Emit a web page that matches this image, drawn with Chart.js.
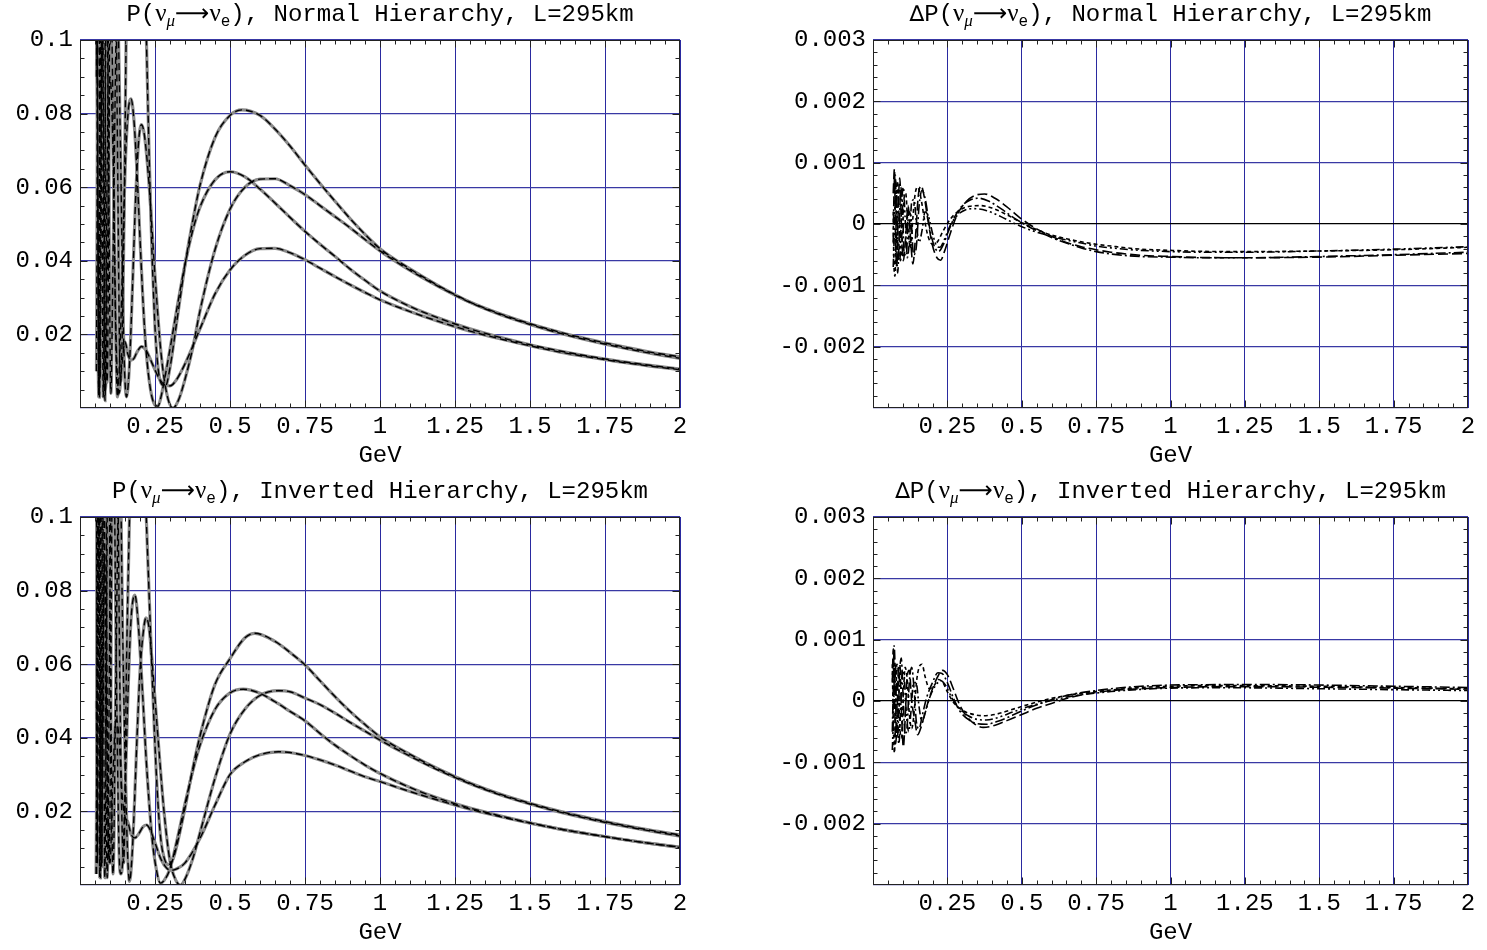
<!DOCTYPE html>
<html>
<head>
<meta charset="utf-8">
<title>P(numu -> nue), L=295km</title>
<script src="https://cdn.jsdelivr.net/npm/chart.js@4.4.1/dist/chart.umd.min.js"></script>
<style>
body{margin:0;background:#fff;overflow:hidden;width:1487px;height:950px;position:relative}
canvas{position:absolute}
</style>
</head>
<body>
<canvas id="nhP" width="740" height="477" style="left:0;top:0"></canvas>
<canvas id="nhD" width="747" height="477" style="left:740px;top:0"></canvas>
<canvas id="ihP" width="740" height="477" style="left:0;top:477px"></canvas>
<canvas id="ihD" width="747" height="477" style="left:740px;top:477px"></canvas>
<script>
// energies in GeV, probabilities
var nhA = [[0.055,0.01],[0.058,0.08],[0.06,0.16],[0.063,0.14],[0.066,0.06],[0.0675,0.008],[0.07,0.04],[0.074,0.14],[0.077,0.2],[0.081,0.15],[0.086,0.05],[0.09,0.007],[0.095,0.04],[0.1,0.13],[0.108,0.2],[0.116,0.16],[0.125,0.07],[0.135,0.007],[0.145,0.04],[0.155,0.11],[0.168,0.2],[0.18,0.23],[0.195,0.2],[0.21,0.14],[0.22,0.105],[0.23,0.07],[0.24,0.042],[0.25,0.022],[0.26,0.011],[0.27,0.0068],[0.285,0.006],[0.3,0.011],[0.32,0.022],[0.35,0.0388],[0.375,0.0505],[0.4,0.0605],[0.45,0.0735],[0.5,0.0795],[0.54,0.081],[0.6,0.0795],[0.65,0.0758],[0.7,0.0712],[0.75,0.066],[0.8,0.061],[0.85,0.0562],[0.9,0.0515],[0.95,0.0472],[1.0,0.0433],[1.1,0.0378],[1.2,0.033],[1.3,0.0288],[1.4,0.0256],[1.5,0.0229],[1.6,0.0206],[1.7,0.0186],[1.8,0.0168],[1.9,0.0152],[2.0,0.0139]];
var nhB = [[0.055,0.14],[0.058,0.11],[0.0625,0.003],[0.066,0.06],[0.0714,0.15],[0.077,0.08],[0.0833,0.002],[0.09,0.06],[0.1,0.13],[0.11,0.08],[0.118,0.025],[0.125,0.003],[0.135,0.02],[0.15,0.064],[0.16,0.08],[0.17,0.084],[0.18,0.078],[0.19,0.064],[0.2,0.046],[0.21,0.029],[0.22,0.016],[0.235,0.005],[0.25,0.0008],[0.26,0.0005],[0.27,0.003],[0.28,0.007],[0.3,0.016],[0.325,0.028],[0.35,0.039],[0.375,0.048],[0.4,0.0546],[0.45,0.062],[0.5,0.0642],[0.55,0.0628],[0.6,0.0595],[0.65,0.0557],[0.7,0.0518],[0.75,0.048],[0.8,0.0445],[0.85,0.0412],[0.9,0.0378],[0.95,0.0347],[1.0,0.0318],[1.1,0.0276],[1.2,0.0243],[1.3,0.0215],[1.4,0.0192],[1.5,0.0172],[1.6,0.0155],[1.7,0.014],[1.8,0.0127],[1.9,0.0116],[2.0,0.0106]];
var nhC = [[0.055,0.09],[0.0564,0.11],[0.059,0.07],[0.062,0.004],[0.065,0.05],[0.069,0.12],[0.073,0.07],[0.0775,0.003],[0.082,0.05],[0.0886,0.12],[0.095,0.07],[0.103,0.004],[0.11,0.04],[0.124,0.11],[0.135,0.07],[0.145,0.02],[0.155,0.003],[0.165,0.012],[0.175,0.033],[0.185,0.056],[0.195,0.072],[0.205,0.077],[0.215,0.074],[0.23,0.061],[0.25,0.036],[0.27,0.015],[0.29,0.0036],[0.31,0.0],[0.33,0.0025],[0.35,0.0078],[0.375,0.016],[0.4,0.0264],[0.45,0.043],[0.5,0.054],[0.55,0.06],[0.6,0.0622],[0.65,0.0623],[0.7,0.0604],[0.75,0.058],[0.8,0.055],[0.85,0.052],[0.9,0.049],[0.95,0.0458],[1.0,0.0427],[1.1,0.0374],[1.2,0.0328],[1.3,0.0287],[1.4,0.0254],[1.5,0.0227],[1.6,0.0203],[1.7,0.0183],[1.8,0.0165],[1.9,0.0149],[2.0,0.0135]];
var nhDl = [[0.055,0.12],[0.06,0.05],[0.065,0.003],[0.07,0.07],[0.075,0.11],[0.08,0.06],[0.085,0.005],[0.09,0.03],[0.1,0.09],[0.11,0.07],[0.12,0.02],[0.13,0.004],[0.14,0.012],[0.15,0.018],[0.16,0.0145],[0.17,0.013],[0.18,0.0135],[0.19,0.0152],[0.205,0.0167],[0.22,0.0157],[0.24,0.0122],[0.26,0.0086],[0.28,0.0064],[0.3,0.006],[0.32,0.0075],[0.35,0.012],[0.4,0.0215],[0.45,0.031],[0.5,0.0375],[0.55,0.0415],[0.6,0.0433],[0.65,0.0434],[0.7,0.0422],[0.75,0.0403],[0.8,0.038],[0.85,0.0357],[0.9,0.0335],[0.95,0.0314],[1.0,0.0294],[1.1,0.0262],[1.2,0.0234],[1.3,0.0209],[1.4,0.0188],[1.5,0.0169],[1.6,0.0152],[1.7,0.0138],[1.8,0.0125],[1.9,0.0114],[2.0,0.0104]];

var ihA = [[0.055,0.12],[0.0583,0.006],[0.061,0.1],[0.0648,0.18],[0.069,0.07],[0.0729,0.006],[0.077,0.1],[0.0833,0.18],[0.09,0.06],[0.0972,0.006],[0.108,0.12],[0.1166,0.18],[0.125,0.12],[0.135,0.04],[0.1458,0.006],[0.155,0.06],[0.165,0.1],[0.18,0.15],[0.194,0.16],[0.21,0.13],[0.22,0.102],[0.23,0.08],[0.24,0.058],[0.25,0.038],[0.26,0.022],[0.27,0.012],[0.28,0.0075],[0.295,0.0055],[0.31,0.007],[0.32,0.0098],[0.35,0.0209],[0.375,0.0313],[0.4,0.0405],[0.45,0.0545],[0.5,0.0615],[0.55,0.0672],[0.583,0.0684],[0.65,0.0662],[0.7,0.0632],[0.75,0.0598],[0.8,0.0555],[0.85,0.0512],[0.9,0.0472],[0.95,0.0436],[1.0,0.0403],[1.1,0.0355],[1.2,0.0313],[1.3,0.0277],[1.4,0.0247],[1.5,0.0222],[1.6,0.02],[1.7,0.0181],[1.8,0.0164],[1.9,0.0149],[2.0,0.0136]];
var ihB = [[0.054,0.003],[0.057,0.06],[0.0604,0.16],[0.064,0.09],[0.068,0.002],[0.072,0.06],[0.0777,0.15],[0.085,0.05],[0.0907,0.002],[0.1,0.08],[0.109,0.14],[0.12,0.066],[0.13,0.01],[0.136,0.003],[0.14,0.004],[0.15,0.024],[0.16,0.052],[0.17,0.072],[0.183,0.0788],[0.195,0.07],[0.21,0.05],[0.22,0.035],[0.24,0.013],[0.255,0.004],[0.268,0.0005],[0.28,0.0012],[0.3,0.0044],[0.325,0.0128],[0.35,0.0221],[0.375,0.0307],[0.4,0.038],[0.45,0.0477],[0.5,0.0522],[0.544,0.0532],[0.6,0.0521],[0.65,0.0498],[0.7,0.0472],[0.75,0.0446],[0.8,0.0412],[0.85,0.038],[0.9,0.0352],[0.95,0.0326],[1.0,0.0303],[1.1,0.0265],[1.2,0.0234],[1.3,0.0209],[1.4,0.0188],[1.5,0.0169],[1.6,0.0152],[1.7,0.0138],[1.8,0.0125],[1.9,0.0113],[2.0,0.0102]];
var ihC = [[0.055,0.003],[0.057,0.07],[0.06,0.15],[0.062,0.08],[0.066,0.002],[0.069,0.06],[0.0734,0.15],[0.078,0.07],[0.0826,0.002],[0.088,0.06],[0.0944,0.14],[0.1,0.08],[0.11,0.003],[0.12,0.06],[0.132,0.12],[0.142,0.07],[0.15,0.035],[0.158,0.01],[0.165,0.001],[0.172,0.006],[0.18,0.019],[0.19,0.04],[0.2,0.058],[0.21,0.068],[0.22,0.0726],[0.23,0.07],[0.24,0.061],[0.26,0.04],[0.28,0.02],[0.3,0.0065],[0.32,0.0012],[0.335,0.0],[0.35,0.0016],[0.375,0.0069],[0.4,0.0142],[0.45,0.029],[0.5,0.041],[0.55,0.0478],[0.6,0.0515],[0.661,0.0528],[0.7,0.0525],[0.75,0.0508],[0.8,0.049],[0.85,0.0467],[0.9,0.0442],[0.95,0.0418],[1.0,0.0394],[1.1,0.035],[1.2,0.031],[1.3,0.0275],[1.4,0.0245],[1.5,0.022],[1.6,0.0198],[1.7,0.0179],[1.8,0.0162],[1.9,0.0147],[2.0,0.0133]];
var ihDl = [[0.055,0.05],[0.057,0.01],[0.06,0.09],[0.064,0.12],[0.068,0.04],[0.072,0.005],[0.077,0.06],[0.082,0.09],[0.088,0.05],[0.095,0.01],[0.1,0.006],[0.11,0.03],[0.12,0.045],[0.13,0.04],[0.14,0.025],[0.15,0.0185],[0.16,0.017],[0.17,0.0138],[0.183,0.0128],[0.195,0.0138],[0.21,0.0158],[0.222,0.0163],[0.235,0.0148],[0.25,0.0115],[0.27,0.007],[0.29,0.0045],[0.305,0.004],[0.32,0.0043],[0.35,0.006],[0.4,0.0127],[0.45,0.0217],[0.5,0.03],[0.55,0.0335],[0.6,0.0354],[0.661,0.0362],[0.7,0.036],[0.75,0.0352],[0.8,0.034],[0.85,0.0326],[0.9,0.031],[0.95,0.0294],[1.0,0.0281],[1.1,0.0254],[1.2,0.0229],[1.3,0.0206],[1.4,0.0186],[1.5,0.0168],[1.6,0.0152],[1.7,0.0138],[1.8,0.0125],[1.9,0.0113],[2.0,0.0103]];

// delta P, in units of 1e-3
var nhD1 = [[0.068,0.5],[0.072,0.9],[0.076,-0.3],[0.08,-0.7],[0.085,0.3],[0.09,0.75],[0.096,-0.1],[0.102,-0.6],[0.11,-0.2],[0.118,0.3],[0.127,-0.3],[0.134,-0.65],[0.143,-0.2],[0.152,0.45],[0.162,0.62],[0.172,0.45],[0.185,0.05],[0.2,-0.35],[0.215,-0.55],[0.227,-0.59],[0.24,-0.45],[0.26,-0.15],[0.28,0.12],[0.31,0.35],[0.34,0.46],[0.375,0.49],[0.41,0.42],[0.45,0.28],[0.5,0.08],[0.55,-0.08],[0.6,-0.2],[0.65,-0.3],[0.7,-0.37],[0.75,-0.42],[0.8,-0.46],[0.9,-0.51],[1.0,-0.53],[1.1,-0.545],[1.25,-0.55],[1.5,-0.54],[1.75,-0.51],[2.0,-0.48]];
var nhD2 = [[0.068,-0.3],[0.071,0.6],[0.075,0.8],[0.079,-0.2],[0.083,-0.8],[0.088,-0.2],[0.093,0.6],[0.099,0.3],[0.105,-0.5],[0.112,-0.5],[0.12,0.2],[0.128,0.1],[0.136,-0.5],[0.145,-0.4],[0.155,0.3],[0.165,0.55],[0.178,0.35],[0.19,-0.05],[0.205,-0.35],[0.22,-0.45],[0.235,-0.35],[0.255,-0.1],[0.275,0.12],[0.3,0.3],[0.33,0.4],[0.355,0.42],[0.39,0.37],[0.43,0.25],[0.48,0.08],[0.53,-0.06],[0.6,-0.22],[0.65,-0.31],[0.7,-0.39],[0.75,-0.45],[0.8,-0.49],[0.9,-0.53],[1.0,-0.54],[1.1,-0.55],[1.25,-0.55],[1.5,-0.53],[1.75,-0.5],[2.0,-0.46]];
var nhD3 = [[0.068,0.2],[0.07,-0.6],[0.074,-0.85],[0.078,0.1],[0.082,0.7],[0.087,0.2],[0.092,-0.6],[0.098,-0.3],[0.104,0.4],[0.11,0.5],[0.118,-0.1],[0.126,-0.4],[0.134,0.1],[0.142,0.5],[0.15,0.6],[0.16,0.45],[0.172,0.1],[0.185,-0.2],[0.2,-0.33],[0.215,-0.3],[0.235,-0.12],[0.26,0.08],[0.29,0.22],[0.325,0.29],[0.36,0.3],[0.4,0.26],[0.45,0.15],[0.5,0.02],[0.55,-0.09],[0.6,-0.18],[0.65,-0.24],[0.7,-0.29],[0.75,-0.33],[0.8,-0.36],[0.9,-0.41],[1.0,-0.43],[1.1,-0.445],[1.25,-0.45],[1.5,-0.44],[1.75,-0.42],[2.0,-0.38]];
var nhD4 = [[0.068,-0.7],[0.072,-0.1],[0.076,0.7],[0.08,0.4],[0.085,-0.5],[0.09,-0.6],[0.096,0.3],[0.102,0.6],[0.108,0.1],[0.115,-0.55],[0.122,-0.3],[0.13,0.35],[0.138,0.4],[0.146,0.0],[0.155,-0.3],[0.165,-0.1],[0.175,0.2],[0.188,0.1],[0.2,-0.15],[0.213,-0.35],[0.225,-0.38],[0.24,-0.25],[0.26,-0.02],[0.285,0.15],[0.31,0.23],[0.34,0.25],[0.38,0.22],[0.43,0.12],[0.48,0.0],[0.53,-0.1],[0.6,-0.2],[0.65,-0.26],[0.7,-0.31],[0.75,-0.36],[0.8,-0.39],[0.9,-0.43],[1.0,-0.45],[1.1,-0.46],[1.25,-0.46],[1.5,-0.44],[1.75,-0.41],[2.0,-0.37]];

var ihD1 = [[0.065,0.3],[0.068,0.85],[0.072,0.2],[0.076,-0.7],[0.08,-0.4],[0.085,0.5],[0.09,0.6],[0.096,-0.2],[0.102,-0.75],[0.108,-0.3],[0.115,0.4],[0.122,0.5],[0.13,0.0],[0.14,-0.3],[0.15,-0.55],[0.16,-0.45],[0.18,-0.1],[0.2,0.2],[0.22,0.42],[0.234,0.5],[0.25,0.43],[0.27,0.2],[0.29,-0.05],[0.31,-0.22],[0.34,-0.37],[0.37,-0.43],[0.4,-0.41],[0.45,-0.32],[0.5,-0.22],[0.55,-0.12],[0.6,-0.04],[0.65,0.04],[0.7,0.1],[0.75,0.14],[0.8,0.17],[0.9,0.2],[1.0,0.22],[1.1,0.23],[1.25,0.235],[1.5,0.225],[1.75,0.21],[2.0,0.19]];
var ihD2 = [[0.065,-0.5],[0.068,0.2],[0.071,0.9],[0.075,0.4],[0.079,-0.6],[0.084,-0.5],[0.089,0.4],[0.095,0.7],[0.101,0.1],[0.108,-0.55],[0.115,-0.4],[0.122,0.3],[0.13,0.55],[0.138,0.2],[0.146,-0.35],[0.155,-0.45],[0.165,-0.25],[0.18,0.05],[0.2,0.3],[0.218,0.46],[0.232,0.45],[0.25,0.3],[0.27,0.05],[0.29,-0.15],[0.32,-0.3],[0.35,-0.37],[0.38,-0.38],[0.42,-0.33],[0.47,-0.23],[0.52,-0.12],[0.57,-0.03],[0.62,0.05],[0.68,0.12],[0.75,0.17],[0.8,0.2],[0.9,0.24],[1.0,0.26],[1.1,0.265],[1.25,0.27],[1.5,0.26],[1.75,0.24],[2.0,0.22]];
var ihD3 = [[0.065,0.6],[0.068,-0.3],[0.072,-0.85],[0.076,-0.2],[0.08,0.6],[0.085,0.5],[0.09,-0.4],[0.096,-0.6],[0.102,0.1],[0.108,0.55],[0.115,0.35],[0.122,-0.2],[0.13,-0.45],[0.138,-0.2],[0.146,0.3],[0.155,0.55],[0.165,0.6],[0.175,0.4],[0.19,0.2],[0.205,0.25],[0.22,0.35],[0.235,0.3],[0.25,0.15],[0.27,-0.02],[0.3,-0.15],[0.33,-0.21],[0.37,-0.24],[0.41,-0.22],[0.46,-0.15],[0.52,-0.06],[0.58,0.02],[0.65,0.09],[0.72,0.14],[0.8,0.18],[0.9,0.22],[1.0,0.24],[1.1,0.25],[1.25,0.25],[1.5,0.24],[1.75,0.22],[2.0,0.2]];
var ihD4 = [[0.065,-0.8],[0.069,-0.2],[0.073,0.6],[0.077,0.5],[0.082,-0.3],[0.087,-0.7],[0.093,-0.1],[0.099,0.5],[0.105,0.4],[0.112,-0.2],[0.12,-0.5],[0.128,-0.15],[0.136,0.3],[0.145,0.3],[0.155,-0.1],[0.165,-0.35],[0.175,-0.2],[0.19,0.05],[0.21,0.25],[0.228,0.33],[0.245,0.25],[0.265,0.05],[0.29,-0.12],[0.32,-0.24],[0.35,-0.3],[0.38,-0.31],[0.42,-0.27],[0.47,-0.18],[0.53,-0.08],[0.6,0.01],[0.67,0.08],[0.75,0.13],[0.8,0.155],[0.9,0.19],[1.0,0.21],[1.1,0.215],[1.25,0.215],[1.5,0.2],[1.75,0.185],[2.0,0.17]];

var titleNormal = '), Normal Hierarchy, L=295km';
var titleInverted = '), Inverted Hierarchy, L=295km';
var xTitle = 'GeV';

Chart.defaults.font.family = "'Liberation Mono', 'Courier New', monospace";
Chart.defaults.font.size = 24;
Chart.defaults.color = '#000';

var MONO = "24px 'Liberation Mono'";
var GREEK = "25px 'Liberation Serif'";
var SUBG = "italic 17px 'Liberation Serif'";
var SUBM = "16px 'Liberation Mono'";
var ARROW = "24px 'DejaVu Sans'";

function titleParts(delta, rest){
  var p = [];
  if (delta) p.push(['\u2206', "22px 'DejaVu Sans'", 0]);
  p.push(['P(', MONO, 0], ['\u03bd', GREEK, 0], ['\u03bc', SUBG, 5], ['\u27f6', ARROW, 0],
         ['\u03bd', GREEK, 0], ['e', SUBM, 5], [rest, MONO, 0]);
  return p;
}

function makeTitle(parts){
  return {
    id: 'richTitle',
    afterDraw: function(chart){
      var ctx = chart.ctx, a = chart.chartArea, total = 0, widths = [];
      ctx.save();
      ctx.fillStyle = '#000';
      ctx.textBaseline = 'alphabetic';
      ctx.textAlign = 'left';
      parts.forEach(function(p){ ctx.font = p[1]; var w = ctx.measureText(p[0]).width; widths.push(w); total += w; });
      var x = (a.left + a.right) / 2 - total / 2;
      parts.forEach(function(p, i){ ctx.font = p[1]; ctx.fillText(p[0], x, 21 + p[2]); x += widths[i]; });
      ctx.restore();
    }
  };
}

// frame with inward ticks on all four sides
var framePlugin = {
  id: 'frame',
  afterDraw: function(chart, args, o){
    var ctx = chart.ctx, a = chart.chartArea, xs = chart.scales.x, ys = chart.scales.y;
    var L = Math.round(a.left) + 0.5, R = Math.round(a.right) - 0.5;
    var T = Math.round(a.top) + 0.5, B = Math.round(a.bottom) - 0.5;
    ctx.save();
    ctx.strokeStyle = '#222';
    ctx.lineWidth = 1;
    ctx.strokeRect(L, T, R - L, B - T);
    ctx.beginPath();
    var n = Math.round((xs.max - xs.min) / o.xStep), i, len, p;
    for (i = 1; i < n; i++) {
      p = Math.round(xs.getPixelForValue(xs.min + i * o.xStep)) + 0.5;
      len = i % o.xEvery === 0 ? 7 : 4;
      ctx.moveTo(p, B); ctx.lineTo(p, B - len);
      ctx.moveTo(p, T); ctx.lineTo(p, T + len);
    }
    n = Math.round((ys.max - ys.min) / o.yStep);
    for (i = 1; i < n; i++) {
      p = Math.round(ys.getPixelForValue(ys.min + i * o.yStep)) + 0.5;
      len = i % o.yEvery === 0 ? 7 : 4;
      ctx.moveTo(L, p); ctx.lineTo(L + len, p);
      ctx.moveTo(R, p); ctx.lineTo(R - len, p);
    }
    ctx.stroke();
    ctx.restore();
  }
};

function pts(arr){
  return arr.map(function(p){ return {x: p[0], y: p[1]}; });
}

function probSets(curves){
  var sets = [];
  // black dashed first so it is painted over the grey line
  curves.forEach(function(c){
    sets.push({data: pts(c), borderColor: '#000', borderWidth: 1.4, borderDash: [7, 4]});
  });
  curves.forEach(function(c){
    sets.push({data: pts(c), borderColor: '#8a8a8a', borderWidth: 3.2});
  });
  return sets;
}

var dashes = [[10, 4], [10, 3, 2, 3], [4, 3], [8, 3, 2, 3, 2, 3]];
function deltaSets(curves){
  return curves.map(function(c, i){
    return {data: pts(c), borderColor: '#000', borderWidth: 1.6, borderDash: dashes[i]};
  });
}

function xLabel(v){
  if (Math.abs(v) < 1e-9) return '';
  return String(Number(v.toFixed(2)));
}
function pLabel(v){
  if (Math.abs(v) < 1e-9) return '';
  return String(Number(v.toFixed(3)));
}
function dLabel(v){
  var r = Math.round(v);
  if (r === -3) return '';
  if (r === 0) return '0';
  return (r / 1000).toFixed(3);
}

function options(kind, padRight, yWidth){
  var isP = kind === 'P';
  return {
    responsive: false,
    animation: false,
    devicePixelRatio: 1,
    layout: {padding: {top: 40, right: padRight, left: 0, bottom: 0}},
    elements: {
      point: {radius: 0},
      line: {cubicInterpolationMode: 'monotone', fill: false}
    },
    plugins: {
      legend: {display: false},
      tooltip: {enabled: false},
      frame: isP ? {xStep: 0.05, xEvery: 5, yStep: 0.005, yEvery: 4}
                 : {xStep: 0.05, xEvery: 5, yStep: 0.2, yEvery: 5}
    },
    scales: {
      x: {
        type: 'linear', min: 0, max: 2,
        afterFit: function(s){ s.height = 69; },
        ticks: {stepSize: 0.25, autoSkip: false, maxRotation: 0, padding: 4, callback: xLabel},
        grid: {color: '#2a2aa0', lineWidth: 1, drawTicks: false},
        border: {display: false},
        title: {display: true, text: xTitle, padding: {top: 0, bottom: 7}}
      },
      y: {
        type: 'linear',
        min: isP ? 0 : -3, max: isP ? 0.1 : 3,
        afterFit: function(s){ s.width = yWidth; },
        ticks: {stepSize: isP ? 0.02 : 1, autoSkip: false, padding: 7, callback: isP ? pLabel : dLabel},
        grid: {
          color: function(c){ return (!isP && c.tick && Math.round(c.tick.value) === 0) ? '#000' : '#3838a4'; },
          lineWidth: 1.3, drawTicks: false
        },
        border: {display: false}
      }
    }
  };
}

new Chart(document.getElementById('nhP'), {
  type: 'line',
  data: {datasets: probSets([nhA, nhB, nhC, nhDl])},
  options: options('P', 60, 80),
  plugins: [framePlugin, makeTitle(titleParts(false, titleNormal))]
});
new Chart(document.getElementById('nhD'), {
  type: 'line',
  data: {datasets: deltaSets([nhD1, nhD2, nhD3, nhD4])},
  options: options('D', 19, 133),
  plugins: [framePlugin, makeTitle(titleParts(true, titleNormal))]
});
new Chart(document.getElementById('ihP'), {
  type: 'line',
  data: {datasets: probSets([ihA, ihB, ihC, ihDl])},
  options: options('P', 60, 80),
  plugins: [framePlugin, makeTitle(titleParts(false, titleInverted))]
});
new Chart(document.getElementById('ihD'), {
  type: 'line',
  data: {datasets: deltaSets([ihD1, ihD2, ihD3, ihD4])},
  options: options('D', 19, 133),
  plugins: [framePlugin, makeTitle(titleParts(true, titleInverted))]
});
</script>
</body>
</html>
